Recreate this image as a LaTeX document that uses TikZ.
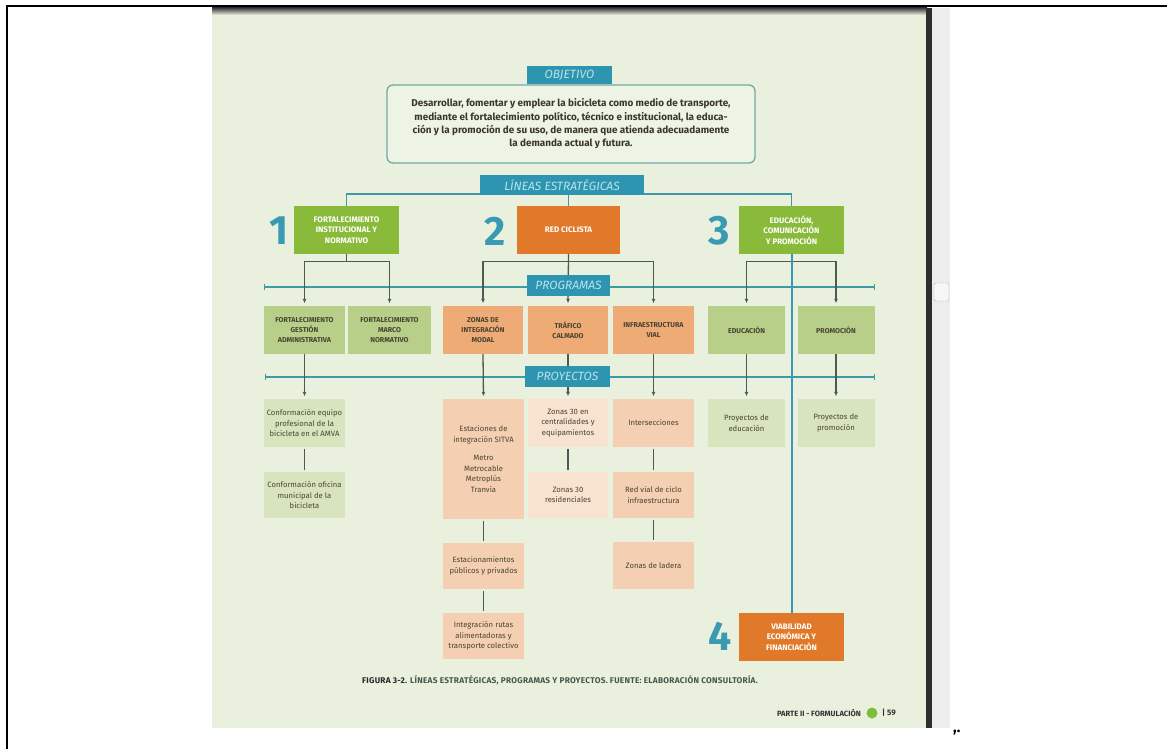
\documentclass[tikz,border=0pt]{standalone}
\usepackage{fontspec}
\setmainfont{Fira Sans}
\usetikzlibrary{arrows.meta,calc}

% palette
\definecolor{pagebg}{HTML}{E9F1DE}
\definecolor{tagfill}{HTML}{2E95B0}
\definecolor{tagink}{HTML}{B9E2EC}
\definecolor{ruleteal}{HTML}{3E9BA6}
\definecolor{spineteal}{HTML}{3A98B6}
\definecolor{connink}{HTML}{4D5953}
\definecolor{numteal}{HTML}{3A9AB2}
\definecolor{lgreen}{HTML}{8ABA3A}
\definecolor{lorange}{HTML}{E07A2A}
\definecolor{pgreen}{HTML}{B7CF88}
\definecolor{porange}{HTML}{EEAB76}
\definecolor{jgreen}{HTML}{D7E4BD}
\definecolor{jorange}{HTML}{F5CFB2}
\definecolor{jpale}{HTML}{F8E2D0}
\definecolor{boxink}{HTML}{4A4532}
\definecolor{objedge}{HTML}{72A8A4}
\definecolor{capink}{HTML}{46584C}
\definecolor{dotgreen}{HTML}{7DBE3C}

\begin{document}
\begin{tikzpicture}[x=1pt,y=-1pt,
  tagbox/.style={fill=tagfill,text=tagink,inner sep=0pt,
     font=\fontsize{12}{12}\selectfont\itshape},
  lineabox/.style={inner sep=0pt,text=white,align=center,
     font=\fontsize{8}{10.5}\selectfont\bfseries,
     minimum width=105pt,minimum height=48pt},
  greenlinea/.style={lineabox,fill=lgreen},
  orangelinea/.style={lineabox,fill=lorange},
  progbox/.style={inner sep=0pt,text=boxink,align=center,
     font=\fontsize{7.1}{10}\selectfont\bfseries,minimum height=48pt},
  projbox/.style={inner sep=0pt,text=boxink,align=center,
     font=\fontsize{7.7}{10.5}\selectfont},
  bignum/.style={text=numteal,inner sep=0pt,font=\fontsize{41}{41}\selectfont\bfseries},
  connector/.style={draw=connink,line width=1.3pt},
  feed/.style={connector,shorten >=2.5pt,-{Latex[length=4.5pt,width=4pt]}},
  joinline/.style={connector,shorten >=2pt,shorten <=2pt},
  progrule/.style={draw=ruleteal,line width=1.4pt,{Bar[width=6pt]}-{Bar[width=6pt]}},
  leline/.style={draw=ruleteal,line width=1.6pt},
]
\useasboundingbox (0,0) rectangle (1167,749);
\fill[white] (0,0) rectangle (1167,749);

% page sheet with its dark top edge, side bar and scroll strip
\fill[pagebg] (212,8) rectangle (927,728);
\shade[top color=black!75,bottom color=pagebg] (212,8) rectangle (927,15);
\fill[black!82] (926,8) rectangle (932,728);
\fill[black!7] (932,8) rectangle (950,728);
\filldraw[fill=black!3,draw=black!30,rounded corners=1.5pt] (934,283) rectangle (949,301);

% table frame
\draw[line width=2pt] (7,749) -- (7,6) -- (1167,6);

% objective
\node[draw=objedge,line width=1.3pt,rounded corners=6pt,fill=pagebg!80!white,
  minimum width=368pt,minimum height=78pt,align=center,text=boxink!80!black,
  font=\fontsize{9.9}{13.3}\selectfont\bfseries] (obj) at (571,124)
  {Desarrollar, fomentar y emplear la bicicleta como medio de transporte,\\
   mediante el fortalecimiento político, técnico e institucional, la educa-\\
   ción y la promoción de su uso, de manera que atienda adecuadamente\\
   la demanda actual y futura.};
\node[tagbox,minimum width=85pt,minimum height=18pt] (objtag) at (569.5,75) {OBJETIVO};

% strategic lines
\node[greenlinea] (L1) at (346.5,230) {FORTALECIMIENTO\\INSTITUCIONAL Y\\NORMATIVO};
\node[orangelinea,minimum width=103pt] (L2) at (568.5,230) {RED CICLISTA};
\node[greenlinea] (L3) at (791.5,230) {EDUCACIÓN,\\COMUNICACIÓN\\Y PROMOCIÓN};
\node[orangelinea] (L4) at (791.5,637) {VIABILIDAD\\ECONÓMICA Y\\FINANCIACIÓN};
\node[bignum] (n1) at (279,231) {1};
\node[bignum] (n2) at (495,231) {2};
\node[bignum] (n3) at (719,231) {3};
\node[bignum] (n4) at (720,636) {4};

% programmes
\node[progbox,fill=pgreen,minimum width=81pt] (P1) at (304.5,330) {FORTALECIMIENTO\\GESTIÓN\\ADMINISTRATIVA};
\node[progbox,fill=pgreen,minimum width=83pt] (P2) at (389.5,330) {FORTALECIMIENTO\\MARCO\\NORMATIVO};
\node[progbox,fill=porange,minimum width=80pt] (P3) at (483,330) {ZONAS DE\\INTEGRACIÓN\\MODAL};
\node[progbox,fill=porange,minimum width=80pt] (P4) at (568,330) {TRÁFICO\\CALMADO};
\node[progbox,fill=porange,minimum width=81pt] (P5) at (653.5,330) {INFRAESTRUCTURA\\VIAL};
\node[progbox,fill=pgreen,minimum width=77pt] (P6) at (746.5,330) {EDUCACIÓN};
\node[progbox,fill=pgreen,minimum width=77pt] (P7) at (836,330) {PROMOCIÓN};

% projects
\node[projbox,fill=jgreen,minimum width=81pt,minimum height=48pt] (J1) at (304.5,423)
  {Conformación equipo\\profesional de la\\bicicleta en el AMVA};
\node[projbox,fill=jgreen,minimum width=81pt,minimum height=46pt] (J1b) at (304.5,495)
  {Conformación oficina\\municipal de la\\bicicleta};
\node[projbox,fill=jorange,minimum width=81pt,minimum height=120pt] (J2) at (483.5,459)
  {Estaciones de\\integración SITVA\\[8pt]Metro\\Metrocable\\Metroplús\\Tranvía};
\node[projbox,fill=jorange,minimum width=81pt,minimum height=46pt] (J2b) at (483.5,566)
  {Estacionamientos\\públicos y privados};
\node[projbox,fill=jorange,minimum width=81pt,minimum height=46pt] (J2c) at (483.5,636)
  {Integración rutas\\alimentadoras y\\transporte colectivo};
\node[projbox,fill=jpale,minimum width=80pt,minimum height=48pt] (J3) at (568,423)
  {Zonas 30 en\\centralidades y\\equipamientos};
\node[projbox,fill=jpale,minimum width=80pt,minimum height=46pt] (J3b) at (568,495)
  {Zonas 30\\residenciales};
\node[projbox,fill=jorange,minimum width=81pt,minimum height=48pt] (J4) at (653.5,423)
  {Intersecciones};
\node[projbox,fill=jorange,minimum width=81pt,minimum height=46pt] (J4b) at (653.5,495)
  {Red vial de ciclo\\infraestructura};
\node[projbox,fill=jorange,minimum width=81pt,minimum height=47pt] (J4c) at (653.5,565.5)
  {Zonas de ladera};
\node[projbox,fill=jgreen,minimum width=77pt,minimum height=48pt] (J5) at (746.5,423)
  {Proyectos de\\educación};
\node[projbox,fill=jgreen,minimum width=77pt,minimum height=48pt] (J6) at (836,423)
  {Proyectos de\\promoción};

% level rules
\coordinate (progL) at (264,287);
\coordinate (progR) at (875,287);
\coordinate (projL) at (265,377);
\coordinate (projR) at (875,377);
\draw[progrule] (progL) -- (progR);
\draw[progrule] (projL) -- (projR);

% strategic lines to programmes
\draw[feed] (L1.south) -- ++(0,7) -| (P1.north);
\draw[feed] (L1.south) -- ++(0,7) -| (P2.north);
\draw[feed] (L2.south) -- (P4.north);
\draw[feed] (L2.south) -- ++(0,7) -| (P3.north);
\draw[feed] (L2.south) -- ++(0,7) -| (P5.north);
\draw[feed] (L3.south) -- ++(0,7) -| (P6.north);
\draw[feed] (L3.south) -- ++(0,7) -| (P7.north);

% programmes to projects
\foreach \a/\b in {P1/J1,P3/J2,P4/J3,P5/J4,P6/J5,P7/J6}
  \draw[feed] (\a.south) -- (\b.north);
\foreach \a/\b in {J1/J1b,J2/J2b,J2b/J2c,J3/J3b,J4/J4b,J4b/J4c}
  \draw[joinline] (\a.south) -- (\b.north);

% spine from line 3 to line 4
\draw[draw=spineteal,line width=2pt] (L3.south) -- (L4.north);

% strategic-lines bar
\coordinate (leJoin) at (562,194);
\draw[leline] (L1.north) |- (leJoin) -| (L3.north);
\draw[leline] (L2.north) -- (L2.north |- leJoin);

% level tags
\node[tagbox,minimum width=164pt,minimum height=20pt] (letag) at (562,185) {LÍNEAS ESTRATÉGICAS};
\node[tagbox,minimum width=83pt,minimum height=21pt] (progtag) at (568.5,285.5) {PROGRAMAS};
\node[tagbox,minimum width=85pt,minimum height=21pt] (projtag) at (567.5,376.5) {PROYECTOS};

% caption and folio
\node[anchor=west,inner sep=0pt,font=\fontsize{8.3}{8.3}\selectfont\bfseries\addfontfeature{LetterSpace=3},text=capink] (cap) at (362,680)
  {\textcolor{black!85}{FIGURA 3-2.} LÍNEAS ESTRATÉGICAS, PROGRAMAS Y PROYECTOS. FUENTE: ELABORACIÓN CONSULTORÍA.};
\node[anchor=east,inner sep=0pt,font=\fontsize{7.6}{7.6}\selectfont\bfseries,text=black!80] (part) at (861,713) {PARTE II - FORMULACIÓN};
\node[circle,fill=dotgreen,minimum size=11pt,inner sep=0pt] (dot) at (872,713) {};
\node[anchor=west,inner sep=0pt,font=\fontsize{8}{8}\selectfont\bfseries,text=black!80] (folio) at (882,713) {| 59};

\node[anchor=base west,inner sep=0pt,font=\fontsize{15}{15}\selectfont\bfseries] (tail) at (953,732) {,.};
\end{tikzpicture}
\end{document}
